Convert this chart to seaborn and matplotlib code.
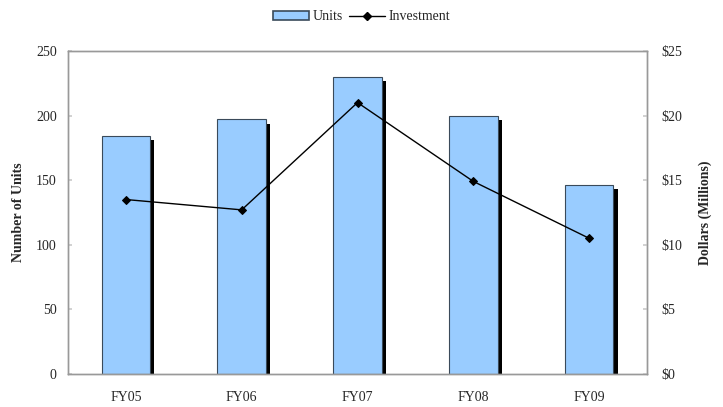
import matplotlib
matplotlib.use("Agg")
import matplotlib.pyplot as plt
import matplotlib.patheffects as pe
from matplotlib.lines import Line2D
from matplotlib.patches import Patch
from matplotlib.ticker import FuncFormatter
import seaborn as sns
import pandas as pd

years = ["FY05", "FY06", "FY07", "FY08", "FY09"]
units = [184, 197, 230, 200, 146]
investment = [13.5, 12.7, 21.0, 14.9, 10.5]

sns.set_theme(style="white")
plt.rcParams["font.family"] = ["Liberation Serif", "DejaVu Serif"]

df = pd.DataFrame({"year": years, "units": units, "investment": investment})

fig = plt.figure(figsize=(7.23, 4.07), dpi=100)
ax = fig.add_axes([0.094, 0.081, 0.801, 0.794])

bar_color = "#99CCFF"
sns.barplot(data=df, x="year", y="units", color=bar_color, width=0.42,
            edgecolor="#3a4a5a", linewidth=0.8, saturation=1, ax=ax, zorder=2)
for p in ax.patches:
    p.set_path_effects([pe.SimplePatchShadow(offset=(3, -3), shadow_rgbFace="black", alpha=1.0),
                        pe.Normal()])

ax.set_ylim(0, 250)
ax.set_yticks(range(0, 251, 50))
ax.set_xlim(-0.5, 4.5)
ax.set_xlabel("")
ax.set_ylabel("Number of Units", fontsize=10, fontweight="bold", labelpad=8)
ax.set_xticks([i + 0.5 for i in range(-1, 5)], minor=True)
ax.tick_params(axis="x", which="major", length=0, labelsize=10, pad=12)
ax.tick_params(axis="x", which="minor", length=3, direction="in", color="#cccccc")
ax.tick_params(axis="y", length=3, direction="in", color="#cccccc", labelsize=10, pad=8)

ax2 = ax.twinx()
sns.lineplot(data=df, x="year", y="investment", color="black", marker="D",
             markersize=4.5, markeredgecolor="black", linewidth=1, ax=ax2, sort=False)
ax2.set_ylim(0, 25)
ax2.set_yticks(range(0, 26, 5))
ax2.yaxis.set_major_formatter(FuncFormatter(lambda v, _: f"${v:.0f}"))
ax2.set_ylabel("Dollars (Millions)", fontsize=10, fontweight="bold", labelpad=12)
ax2.set_xlabel("")
ax2.tick_params(axis="y", length=3, direction="in", color="#cccccc", labelsize=10, pad=10)

for a in (ax, ax2):
    for s in a.spines.values():
        s.set_color("#999999")
        s.set_linewidth(1)

handles = [Patch(facecolor=bar_color, edgecolor="#3a4a5a", linewidth=1.2),
           Line2D([0], [0], color="black", marker="D", markersize=4, linewidth=1)]
fig.legend(handles, ["Units", "Investment"], loc="upper center",
           bbox_to_anchor=(0.5, 1.005), ncol=2, frameon=False, fontsize=10,
           handlelength=2.6, handleheight=0.6, columnspacing=0.4, handletextpad=0.3)

fig.savefig("out.png", dpi=100)
